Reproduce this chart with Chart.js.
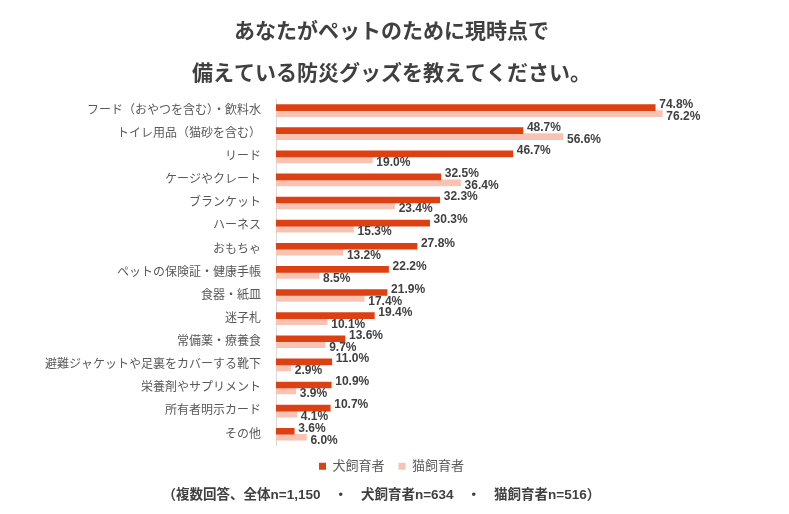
<!DOCTYPE html>
<html>
<head>
<meta charset="utf-8">
<script src="https://cdn.jsdelivr.net/npm/chart.js@4"></script>
<style>
  html, body { margin: 0; padding: 0; background: #fff; }
  #wrap { width: 789px; height: 514px; }
</style>
</head>
<body>
<div id="wrap"><canvas id="myChart"></canvas></div>
<script>
/* 防災グッズ 犬・猫 */
const categories = [
  'フード（おやつを含む）・飲料水',
  'トイレ用品（猫砂を含む）',
  'リード',
  'ケージやクレート',
  'ブランケット',
  'ハーネス',
  'おもちゃ',
  'ペットの保険証・健康手帳',
  '食器・紙皿',
  '迷子札',
  '常備薬・療養食',
  '避難ジャケットや足裏をカバーする靴下',
  '栄養剤やサプリメント',
  '所有者明示カード',
  'その他'
];

const dogValues = [74.8, 48.7, 46.7, 32.5, 32.3, 30.3, 27.8, 22.2, 21.9, 19.4, 13.6, 11.0, 10.9, 10.7, 3.6];
const catValues = [76.2, 56.6, 19.0, 36.4, 23.4, 15.3, 13.2, 8.5, 17.4, 10.1, 9.7, 2.9, 3.9, 4.1, 6.0];

const titleLines = ['あなたがペットのために現時点で', '備えている防災グッズを教えてください。'];
const footNote = '（複数回答、全体n=1,150　・　犬飼育者n=634　・　猫飼育者n=516）　　';

const FONT = "'Liberation Sans', 'Noto Sans CJK JP', sans-serif";

// 値ラベル（犬は上寄せ、猫は下寄せ）
const valueLabels = {
  id: 'valueLabels',
  afterDatasetsDraw(chart) {
    const ctx = chart.ctx;
    ctx.save();
    ctx.font = 'bold 12px ' + FONT;
    ctx.fillStyle = '#404040';
    ctx.textAlign = 'left';
    ctx.textBaseline = 'middle';
    chart.data.datasets.forEach((ds, di) => {
      const meta = chart.getDatasetMeta(di);
      meta.data.forEach((bar, i) => {
        const dy = di === 0 ? -3 : 3;
        ctx.fillText(ds.data[i].toFixed(1) + '%', bar.x + 4, bar.y + dy);
      });
    });
    ctx.restore();
  }
};

const data1 = {
  labels: categories,
  datasets: [{
    label: '犬飼育者',
    data: dogValues,
    backgroundColor: '#DD4013',
    barThickness: 6
  }, {
    label: '猫飼育者',
    data: catValues,
    backgroundColor: '#F9C3B3',
    barThickness: 6
  }]
};

const config1 = {
  type: 'bar',
  data: data1,
  options: {
    indexAxis: 'y',
    responsive: true,
    maintainAspectRatio: false,
    animation: false,
    layout: {
      padding: { left: 0, right: 6, top: 0, bottom: 0 }
    },
    scales: {
      x: {
        display: false,
        min: 0,
        max: 100
      },
      y: {
        grid: { display: false },
        border: { display: true, color: '#D9D9D9', width: 1 },
        ticks: {
          color: '#595959',
          padding: 7,
          font: { family: FONT, size: 12 }
        },
        afterFit(scale) { scale.width = 276; }
      }
    },
    plugins: {
      title: {
        display: true,
        text: titleLines,
        color: '#404040',
        font: { family: FONT, size: 21, weight: 'bold', lineHeight: 2.0 },
        padding: { top: 11, bottom: 4 }
      },
      subtitle: {
        display: true,
        position: 'bottom',
        text: footNote,
        color: '#404040',
        font: { family: FONT, size: 13.5, weight: 'bold', lineHeight: 1.2 },
        padding: { top: 4, bottom: 11 }
      },
      legend: {
        position: 'bottom',
        labels: {
          boxWidth: 7,
          boxHeight: 7,
          padding: 14,
          color: '#595959',
          font: { family: FONT, size: 13 }
        }
      },
      tooltip: { enabled: false }
    }
  },
  plugins: [valueLabels]
};

const myChart1 = new Chart(document.getElementById('myChart'), config1);
</script>
</body>
</html>
